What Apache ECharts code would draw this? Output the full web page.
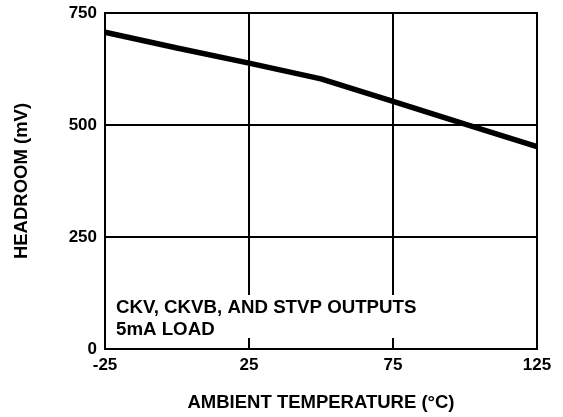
<!DOCTYPE html>
<html>
<head>
<meta charset="utf-8">
<script src="https://cdn.jsdelivr.net/npm/echarts@6/dist/echarts.min.js"></script>
<style>
html,body{margin:0;padding:0;background:#fff;}
#c{width:563px;height:417px;}
</style>
</head>
<body>
<div id="c"></div>
<script>
var temperatures = [-25, 0, 25, 50, 75, 100, 125];
var headroom = [707, 672, 638, 603, 553, 502, 452];
var xTicks = [-25, 25, 75, 125];
var yTicks = [0, 250, 500, 750];
var xName = 'AMBIENT TEMPERATURE (°C)';
var yName = 'HEADROOM (mV)';
var noteLines = ['CKV, CKVB, AND STVP OUTPUTS', '5mA LOAD'];

var FONT = '"Liberation Sans", Arial, Helvetica, sans-serif';
var chart = echarts.init(document.getElementById('c'), null, {renderer: 'canvas'});
chart.setOption({
  animation: false,
  backgroundColor: '#fff',
  grid: {left: 105, right: 26, top: 13, bottom: 68, show: true, borderColor: '#000', borderWidth: 2, backgroundColor: 'transparent'},
  xAxis: [{
    type: 'value', min: xTicks[0], max: xTicks[xTicks.length-1], interval: 50,
    name: xName, nameLocation: 'middle', nameGap: 44,
    nameTextStyle: {fontFamily: FONT, fontWeight: 'bold', fontSize: 18.5, color: '#000'},
    axisLine: {show: true, onZero: false, lineStyle: {color: '#000', width: 2}},
    axisTick: {show: false},
    axisLabel: {fontFamily: FONT, fontWeight: 'bold', fontSize: 17, color: '#000', margin: 8},
    splitLine: {show: true, lineStyle: {color: '#000', width: 2}},
    z: 0
  }, {
    type: 'value', position: 'bottom', min: xTicks[0], max: xTicks[xTicks.length-1], interval: 50,
    axisLine: {show: true, onZero: false, lineStyle: {color: '#000', width: 2}},
    axisTick: {show: true, inside: true, length: 7, lineStyle: {color: '#000', width: 2}},
    axisLabel: {show: false},
    splitLine: {show: false},
    z: 4
  }],
  yAxis: {
    type: 'value', min: yTicks[0], max: yTicks[yTicks.length-1], interval: 250,
    name: yName, nameLocation: 'middle', nameGap: 74, nameRotate: 90,
    nameTextStyle: {fontFamily: FONT, fontWeight: 'bold', fontSize: 18.5, color: '#000'},
    axisLine: {show: true, onZero: false, lineStyle: {color: '#000', width: 2}},
    axisTick: {show: false},
    axisLabel: {fontFamily: FONT, fontWeight: 'bold', fontSize: 17, color: '#000', margin: 8},
    splitLine: {show: true, lineStyle: {color: '#000', width: 2}},
    z: 0
  },
  graphic: [
    {type: 'rect', left: 110, top: 295, z: 1, shape: {width: 320, height: 43}, style: {fill: '#fff'}},
    {type: 'text', left: 116, top: 297, z: 3, style: {text: noteLines.join('\n'), font: 'bold 18.7px ' + FONT, fill: '#000', lineHeight: 22}}
  ],
  series: [{
    type: 'line', xAxisIndex: 0,
    data: temperatures.map(function(t, i){ return [t, headroom[i]]; }),
    showSymbol: false, symbol: 'none', smooth: false,
    lineStyle: {color: '#000', width: 5.5},
    z: 5
  }]
});
</script>
</body>
</html>
